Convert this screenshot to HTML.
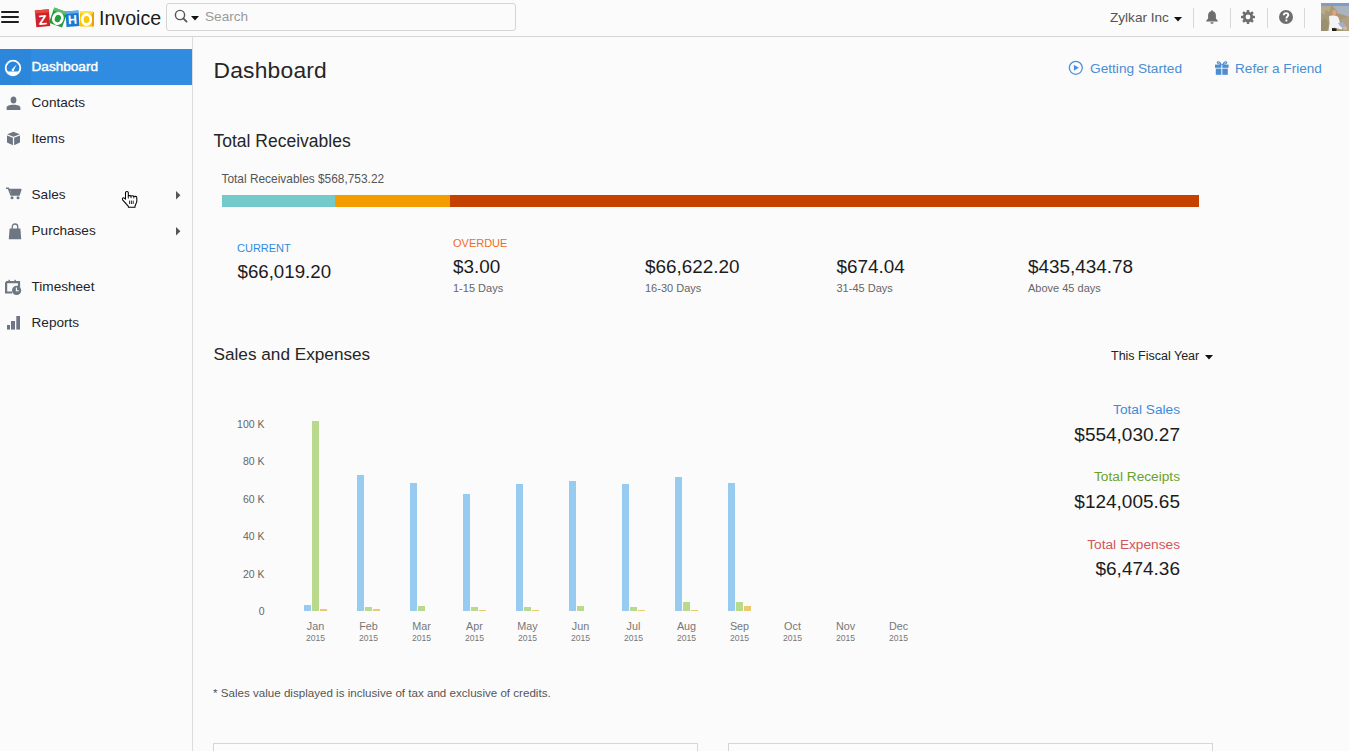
<!DOCTYPE html>
<html><head><meta charset="utf-8"><style>
html,body{margin:0;padding:0;}
body{width:1349px;height:751px;overflow:hidden;position:relative;background:#fbfbfb;font-family:"Liberation Sans",sans-serif;}
.t{position:absolute;line-height:1;white-space:nowrap;}
</style></head><body>
<div style="position:absolute;left:0;top:36px;width:1349px;height:1px;background:#d6d6d6"></div>
<div style="position:absolute;left:1px;top:11px;width:18px;height:2px;background:#1e1e1e;border-radius:1px"></div>
<div style="position:absolute;left:1px;top:16px;width:18px;height:2px;background:#1e1e1e;border-radius:1px"></div>
<div style="position:absolute;left:1px;top:21px;width:18px;height:2px;background:#1e1e1e;border-radius:1px"></div>
<svg style="position:absolute;left:34px;top:6px" width="62" height="22" viewBox="0 0 62 22">
<g transform="translate(0 0.8) rotate(-5 8 11)"><rect x="1.5" y="3" width="14" height="17" fill="#d0222c"/><rect x="1.5" y="3" width="14" height="3" fill="#e8483a"/><text x="8.5" y="18" font-family="Liberation Sans" font-weight="700" font-size="13.5" fill="#fff" text-anchor="middle">Z</text></g>
<g transform="rotate(20 24 12)"><rect x="17" y="3.5" width="14" height="16" fill="#239c3a"/><rect x="17" y="3.5" width="14" height="3" fill="#5cbd68"/><ellipse cx="24" cy="12.5" rx="4.4" ry="5.2" fill="none" stroke="#fff" stroke-width="2.8"/></g>
<g transform="rotate(-4 38 13)"><rect x="32" y="5" width="13" height="15.5" fill="#1b78d2"/><rect x="32" y="5" width="13" height="2.5" fill="#62aee8"/><text x="38.5" y="18" font-family="Liberation Sans" font-weight="700" font-size="12.5" fill="#fff" text-anchor="middle">H</text></g>
<rect x="46" y="5.5" width="13" height="15" fill="#fcc602"/><rect x="58" y="6" width="2" height="14.5" fill="#f39c00"/><rect x="46" y="5.5" width="13" height="2" fill="#ffe04a"/><ellipse cx="52.5" cy="13.5" rx="4.3" ry="5" fill="none" stroke="#fff" stroke-width="2.8"/>
</svg>
<div class="t" style="top:9.01px;font-size:19.6px;color:#1c1c1c;left:99px;">Invoice</div>
<div style="position:absolute;left:166px;top:3px;width:348px;height:26px;border:1px solid #d4d4d4;border-radius:3px;background:#fbfbfb"></div>
<svg style="position:absolute;left:174px;top:9px" width="14" height="14" viewBox="0 0 14 14"><circle cx="6" cy="6" r="4.6" fill="none" stroke="#555" stroke-width="1.4"/><line x1="9.3" y1="9.3" x2="12.6" y2="12.6" stroke="#555" stroke-width="1.8" stroke-linecap="round"/></svg>
<svg style="position:absolute;left:191px;top:16px" width="8" height="5" viewBox="0 0 8 5"><path d="M0 0H8L4 4.5Z" fill="#111"/></svg>
<div class="t" style="top:9.79px;font-size:13.6px;color:#9a9a9a;left:205px;">Search</div>
<div class="t" style="top:10.89px;font-size:13.6px;color:#555;left:1110px;">Zylkar Inc</div>
<svg style="position:absolute;left:1174px;top:17px" width="8" height="5" viewBox="0 0 8 5"><path d="M0 0H8L4 4.5Z" fill="#111"/></svg>
<div style="position:absolute;left:1193px;top:8px;width:1px;height:20px;background:#d8d8d8"></div>
<div style="position:absolute;left:1230px;top:8px;width:1px;height:20px;background:#d8d8d8"></div>
<div style="position:absolute;left:1267px;top:8px;width:1px;height:20px;background:#d8d8d8"></div>
<div style="position:absolute;left:1304px;top:8px;width:1px;height:20px;background:#d8d8d8"></div>
<svg style="position:absolute;left:1206px;top:10px" width="12" height="14" viewBox="0 0 12 14"><path d="M6 0.3C6.6 0.3 6.9 0.8 6.9 1.3C9 1.8 9.9 3.5 9.9 5.6V8.6L11.8 10.8V11.4H0.2V10.8L2.1 8.6V5.6C2.1 3.5 3 1.8 5.1 1.3C5.1 0.8 5.4 0.3 6 0.3Z" fill="#6e6e6e"/><path d="M4.3 12.2H7.7C7.5 13.2 6.8 13.8 6 13.8C5.2 13.8 4.5 13.2 4.3 12.2Z" fill="#6e6e6e"/></svg>
<svg style="position:absolute;left:1240px;top:9px" width="16" height="16" viewBox="-8 -8 16 16"><rect x="-1.3" y="-7" width="2.6" height="3.4" rx="0.4" fill="#6e6e6e" transform="rotate(0)"/><rect x="-1.3" y="-7" width="2.6" height="3.4" rx="0.4" fill="#6e6e6e" transform="rotate(45)"/><rect x="-1.3" y="-7" width="2.6" height="3.4" rx="0.4" fill="#6e6e6e" transform="rotate(90)"/><rect x="-1.3" y="-7" width="2.6" height="3.4" rx="0.4" fill="#6e6e6e" transform="rotate(135)"/><rect x="-1.3" y="-7" width="2.6" height="3.4" rx="0.4" fill="#6e6e6e" transform="rotate(180)"/><rect x="-1.3" y="-7" width="2.6" height="3.4" rx="0.4" fill="#6e6e6e" transform="rotate(225)"/><rect x="-1.3" y="-7" width="2.6" height="3.4" rx="0.4" fill="#6e6e6e" transform="rotate(270)"/><rect x="-1.3" y="-7" width="2.6" height="3.4" rx="0.4" fill="#6e6e6e" transform="rotate(315)"/><circle r="5.2" fill="#6e6e6e"/><circle r="2.4" fill="#fbfbfb"/></svg>
<svg style="position:absolute;left:1279px;top:10px" width="14" height="14" viewBox="0 0 14 14"><circle cx="7" cy="7" r="7" fill="#6e6e6e"/><path d="M4.8 5.3C4.8 3.9 5.8 3.1 7.1 3.1C8.4 3.1 9.3 3.9 9.3 5C9.3 6.5 7.4 6.6 7.4 8.4" fill="none" stroke="#fff" stroke-width="1.9"/><rect x="6.45" y="9.6" width="1.9" height="1.8" fill="#fff"/></svg>
<svg style="position:absolute;left:1321px;top:3px" width="28" height="28" viewBox="0 0 28 28"><rect width="28" height="28" fill="#a89a78"/><rect width="28" height="3" fill="#7f9cc4"/><path d="M12 3H28V14C24 12 20 11 16 10Z" fill="#a9b4c0"/><path d="M0 3H10L8 9L5 7L3 12L0 10Z" fill="#b6a98e"/><path d="M0 18L4 15L8 20L6 28H0Z" fill="#9a9070"/><path d="M20 16L28 14V28H22Z" fill="#b3a084"/><path d="M10 7C10 5.6 11.8 5.2 13.4 5.4C15.2 5.6 16.2 7.4 16.2 10L16.4 15H9.8Z" fill="#b89468"/><ellipse cx="13.3" cy="9.6" rx="2" ry="2.8" fill="#d8a58a"/><path d="M8 13.5C9 12.6 11 12.4 13 12.6C15 12.8 17.4 13.2 17.8 15.5L19.5 22L22 24L20.5 26.5L13 24.5L11 28H7.5L8.5 20Z" fill="#f3f2f4"/><path d="M17 20L22 19L25 23.5L22.5 26L19 23Z" fill="#9fb0c8"/><path d="M11 25L15.5 25.5L15.5 28H11Z" fill="#1e1e1e"/><path d="M21.5 24.5L25 23.5L26.5 26L23 27Z" fill="#d9b9a0"/></svg>
<div style="position:absolute;left:192px;top:37px;width:1px;height:714px;background:#dcdcdc"></div>
<div style="position:absolute;left:0;top:49px;width:192px;height:36px;background:#2f8ce0"></div><div style="position:absolute;left:0;top:49px;width:31px;height:36px;background:#2c86da"></div>
<svg style="position:absolute;left:4px;top:59px" width="18" height="18" viewBox="0 0 18 18"><circle cx="9" cy="9" r="7.3" fill="none" stroke="#fff" stroke-width="1.8"/><path d="M3.2 12.6A6.6 6.6 0 0 0 14.8 12.6Z" fill="#fff"/><path d="M12.6 5.4L8 10.2L9.6 11.6Z" fill="#fff"/><circle cx="8.9" cy="11" r="1.3" fill="#fff"/></svg>
<div class="t" style="top:59.69px;font-size:13.6px;color:#fff;left:31.5px;-webkit-text-stroke:0.45px #fff;">Dashboard</div>
<div class="t" style="top:95.69px;font-size:13.6px;color:#1f2329;left:31.5px;">Contacts</div>
<div class="t" style="top:132.09px;font-size:13.6px;color:#1f2329;left:31.5px;">Items</div>
<div class="t" style="top:187.79px;font-size:13.6px;color:#1f2329;left:31.5px;">Sales</div>
<div class="t" style="top:223.79px;font-size:13.6px;color:#1f2329;left:31.5px;">Purchases</div>
<div class="t" style="top:279.99px;font-size:13.6px;color:#1f2329;left:31.5px;">Timesheet</div>
<div class="t" style="top:315.79px;font-size:13.6px;color:#1f2329;left:31.5px;">Reports</div>
<svg style="position:absolute;left:6px;top:96px" width="15" height="14" viewBox="0 0 15 14"><ellipse cx="7.5" cy="4" rx="2.9" ry="3.6" fill="#6f7683"/><path d="M0.6 14V11.8C0.6 10 3.2 8.8 7.5 8.8C11.8 8.8 14.4 10 14.4 11.8V14Z" fill="#6f7683"/></svg>
<svg style="position:absolute;left:6px;top:131px" width="15" height="15" viewBox="0 0 15 15"><path d="M7.5 0.8L13.8 3.3L7.5 5.8L1.2 3.3Z" fill="#6f7683"/><path d="M1 4.4L6.9 6.8V14.2L1 11.6Z" fill="#6f7683"/><path d="M14 4.4L8.1 6.8V14.2L14 11.6Z" fill="#6f7683"/></svg>
<svg style="position:absolute;left:5px;top:187px" width="17" height="13" viewBox="0 0 17 13"><path d="M1 1.2H3.4L6 8H14L15.8 2.6H4.6" fill="none" stroke="#6f7683" stroke-width="1.6" stroke-linejoin="round"/><path d="M5 2.6H15.8L14 8H6.6Z" fill="#6f7683"/><circle cx="7" cy="10.8" r="1.5" fill="#6f7683"/><circle cx="13" cy="10.8" r="1.5" fill="#6f7683"/></svg>
<svg style="position:absolute;left:8px;top:223px" width="14" height="17" viewBox="0 0 14 17"><path d="M4.3 6V3.6C4.3 2 5.4 1 7 1C8.6 1 9.7 2 9.7 3.6V6" fill="none" stroke="#6f7683" stroke-width="1.3"/><path d="M1.6 5.4H12.4L13.2 16.2H0.8Z" fill="#6f7683"/></svg>
<svg style="position:absolute;left:5px;top:279px" width="17" height="17" viewBox="0 0 17 17"><path d="M1 3.2H14V8" fill="none" stroke="#6f7683" stroke-width="2.2"/><path d="M1.1 3.2V13.5H7" fill="none" stroke="#6f7683" stroke-width="2.2"/><rect x="3.5" y="0.8" width="1.4" height="2.2" fill="#6f7683"/><rect x="9.5" y="0.8" width="1.4" height="2.2" fill="#6f7683"/><circle cx="11.6" cy="11.4" r="4.6" fill="#6f7683"/><path d="M11.4 8.6V11.8H13.8" fill="none" stroke="#fafafa" stroke-width="1.1"/></svg>
<svg style="position:absolute;left:7px;top:316px" width="14" height="14" viewBox="0 0 14 14"><rect x="0" y="9" width="3" height="4.6" fill="#6f7683"/><rect x="4" y="5" width="4" height="8.6" fill="#6f7683"/><rect x="9.3" y="0" width="3.7" height="13.6" fill="#6f7683"/></svg>
<svg style="position:absolute;left:176px;top:191px" width="5" height="9" viewBox="0 0 5 9"><path d="M0 0L4.4 4.2L0 8.4Z" fill="#555"/></svg>
<svg style="position:absolute;left:176px;top:227px" width="5" height="9" viewBox="0 0 5 9"><path d="M0 0L4.4 4.2L0 8.4Z" fill="#555"/></svg>
<svg style="position:absolute;left:118px;top:186px" width="24" height="24" viewBox="0 0 24 24"><path d="M7.5 13.2V6.6C7.5 5.1 10.3 5.1 10.3 6.6V10.2C10.5 9.4 12.7 9.4 13 10.3C13.3 9.6 15.4 9.6 15.8 10.6C16.2 10.1 18.8 10.2 18.8 11.4V15.6L17 20.2V21.2H10.4V20.4L4.6 13.8C3.8 12.6 5.2 11.2 6.4 12.2Z" fill="#fff" stroke="#000" stroke-width="1.05" stroke-linejoin="round"/><path d="M10.3 10.2V12.6M13 10.3V12.2M15.8 10.6V12.4M11.6 14.6V18M13.4 14.6V18M15.2 14.6V18" stroke="#000" stroke-width="0.85"/></svg>
<div class="t" style="top:58.50px;font-size:22.8px;color:#262626;left:213.5px;letter-spacing:0.22px;">Dashboard</div>
<svg style="position:absolute;left:1068px;top:60px" width="16" height="16" viewBox="0 0 16 16"><circle cx="7.8" cy="7.8" r="6.5" fill="none" stroke="#4a90d6" stroke-width="1.3"/><path d="M5.9 4.8L10.8 7.8L5.9 10.8Z" fill="#4a90d6"/></svg>
<div class="t" style="top:61.80px;font-size:13.7px;color:#4a8dd2;left:1090px;">Getting Started</div>
<svg style="position:absolute;left:1215px;top:60px" width="14" height="16" viewBox="0 0 14 16"><path d="M6.2 4.4C5 2.2 3.4 1.2 2.6 2C1.8 2.8 2.8 4.2 6.2 4.4ZM7.8 4.4C9 2.2 10.6 1.2 11.4 2C12.2 2.8 11.2 4.2 7.8 4.4Z" fill="none" stroke="#4a8dd2" stroke-width="1.1"/><rect x="0" y="4.6" width="6.3" height="3.2" fill="#4a8dd2"/><rect x="7.3" y="4.6" width="6.3" height="3.2" fill="#4a8dd2"/><rect x="0.8" y="8.6" width="5.5" height="6.2" fill="#4a8dd2"/><rect x="7.3" y="8.6" width="5.5" height="6.2" fill="#4a8dd2"/></svg>
<div class="t" style="top:61.89px;font-size:13.6px;color:#4a8dd2;left:1235px;">Refer a Friend</div>
<div class="t" style="top:132.99px;font-size:17.5px;color:#262626;left:213.5px;">Total Receivables</div>
<div class="t" style="top:173.63px;font-size:11.9px;color:#555;left:221.5px;">Total Receivables $568,753.22</div>
<div style="position:absolute;left:222px;top:195px;width:113px;height:12px;background:#74cacb"></div>
<div style="position:absolute;left:335px;top:195px;width:115px;height:12px;background:#f39c00"></div>
<div style="position:absolute;left:450px;top:195px;width:749px;height:12px;background:#c44100"></div>
<div class="t" style="top:242.59px;font-size:11px;color:#2f8ce0;left:237px;">CURRENT</div>
<div class="t" style="top:262.67px;font-size:18.7px;color:#1c1c1c;left:237.5px;">$66,019.20</div>
<div class="t" style="top:237.99px;font-size:11px;color:#f26b1d;left:453px;">OVERDUE</div>
<div class="t" style="top:257.80px;font-size:18.9px;color:#1c1c1c;left:453px;">$3.00</div>
<div class="t" style="top:282.69px;font-size:11px;color:#666;left:453px;">1-15 Days</div>
<div class="t" style="top:257.80px;font-size:18.9px;color:#1c1c1c;left:645px;">$66,622.20</div>
<div class="t" style="top:282.69px;font-size:11px;color:#666;left:645px;">16-30 Days</div>
<div class="t" style="top:257.80px;font-size:18.9px;color:#1c1c1c;left:836.5px;">$674.04</div>
<div class="t" style="top:282.69px;font-size:11px;color:#666;left:836.5px;">31-45 Days</div>
<div class="t" style="top:257.80px;font-size:18.9px;color:#1c1c1c;left:1028px;">$435,434.78</div>
<div class="t" style="top:282.69px;font-size:11px;color:#666;left:1028px;">Above 45 days</div>
<div class="t" style="top:346.04px;font-size:17.2px;color:#262626;left:213.5px;">Sales and Expenses</div>
<div class="t" style="top:349.72px;font-size:12.5px;color:#222;left:1111px;">This Fiscal Year</div>
<svg style="position:absolute;left:1205px;top:355px" width="8" height="5" viewBox="0 0 8 5"><path d="M0 0H8L4 4.5Z" fill="#111"/></svg>
<div class="t" style="top:418.91px;font-size:10.5px;color:#666;right:1084.5px;text-align:right;">100 K</div>
<div class="t" style="top:456.31px;font-size:10.5px;color:#666;right:1084.5px;text-align:right;">80 K</div>
<div class="t" style="top:493.71px;font-size:10.5px;color:#666;right:1084.5px;text-align:right;">60 K</div>
<div class="t" style="top:531.11px;font-size:10.5px;color:#666;right:1084.5px;text-align:right;">40 K</div>
<div class="t" style="top:568.51px;font-size:10.5px;color:#666;right:1084.5px;text-align:right;">20 K</div>
<div class="t" style="top:605.91px;font-size:10.5px;color:#666;right:1084.5px;text-align:right;">0</div>
<div style="position:absolute;left:304px;top:605.2px;width:7px;height:5.8px;background:#97cbf0"></div>
<div style="position:absolute;left:312px;top:421.0px;width:7px;height:190.0px;background:#b9da8c"></div>
<div style="position:absolute;left:320px;top:609.2px;width:7px;height:1.8px;background:#ebc96e"></div>
<div class="t" style="top:620.66px;font-size:10.8px;color:#777;left:165.5px;width:300px;text-align:center;">Jan</div>
<div class="t" style="top:634.02px;font-size:8.6px;color:#777;left:165.5px;width:300px;text-align:center;">2015</div>
<div style="position:absolute;left:357px;top:474.5px;width:7px;height:136.5px;background:#97cbf0"></div>
<div style="position:absolute;left:365px;top:606.9px;width:7px;height:4.1px;background:#b9da8c"></div>
<div style="position:absolute;left:373px;top:608.8px;width:7px;height:2.2px;background:#ebc96e"></div>
<div class="t" style="top:620.66px;font-size:10.8px;color:#777;left:218.5px;width:300px;text-align:center;">Feb</div>
<div class="t" style="top:634.02px;font-size:8.6px;color:#777;left:218.5px;width:300px;text-align:center;">2015</div>
<div style="position:absolute;left:410px;top:482.5px;width:7px;height:128.5px;background:#97cbf0"></div>
<div style="position:absolute;left:418px;top:606.2px;width:7px;height:4.8px;background:#b9da8c"></div>
<div class="t" style="top:620.66px;font-size:10.8px;color:#777;left:271.5px;width:300px;text-align:center;">Mar</div>
<div class="t" style="top:634.02px;font-size:8.6px;color:#777;left:271.5px;width:300px;text-align:center;">2015</div>
<div style="position:absolute;left:463px;top:493.8px;width:7px;height:117.2px;background:#97cbf0"></div>
<div style="position:absolute;left:471px;top:607.0px;width:7px;height:4.0px;background:#b9da8c"></div>
<div style="position:absolute;left:479px;top:610.3px;width:7px;height:0.7px;background:#ebc96e"></div>
<div class="t" style="top:620.66px;font-size:10.8px;color:#777;left:324.5px;width:300px;text-align:center;">Apr</div>
<div class="t" style="top:634.02px;font-size:8.6px;color:#777;left:324.5px;width:300px;text-align:center;">2015</div>
<div style="position:absolute;left:516px;top:483.9px;width:7px;height:127.1px;background:#97cbf0"></div>
<div style="position:absolute;left:524px;top:607.0px;width:7px;height:4.0px;background:#b9da8c"></div>
<div style="position:absolute;left:532px;top:610.3px;width:7px;height:0.7px;background:#ebc96e"></div>
<div class="t" style="top:620.66px;font-size:10.8px;color:#777;left:377.5px;width:300px;text-align:center;">May</div>
<div class="t" style="top:634.02px;font-size:8.6px;color:#777;left:377.5px;width:300px;text-align:center;">2015</div>
<div style="position:absolute;left:569px;top:481.1px;width:7px;height:129.9px;background:#97cbf0"></div>
<div style="position:absolute;left:577px;top:606.3px;width:7px;height:4.7px;background:#b9da8c"></div>
<div class="t" style="top:620.66px;font-size:10.8px;color:#777;left:430.5px;width:300px;text-align:center;">Jun</div>
<div class="t" style="top:634.02px;font-size:8.6px;color:#777;left:430.5px;width:300px;text-align:center;">2015</div>
<div style="position:absolute;left:622px;top:483.9px;width:7px;height:127.1px;background:#97cbf0"></div>
<div style="position:absolute;left:630px;top:607.0px;width:7px;height:4.0px;background:#b9da8c"></div>
<div style="position:absolute;left:638px;top:610.3px;width:7px;height:0.7px;background:#ebc96e"></div>
<div class="t" style="top:620.66px;font-size:10.8px;color:#777;left:483.5px;width:300px;text-align:center;">Jul</div>
<div class="t" style="top:634.02px;font-size:8.6px;color:#777;left:483.5px;width:300px;text-align:center;">2015</div>
<div style="position:absolute;left:675px;top:477.0px;width:7px;height:134.0px;background:#97cbf0"></div>
<div style="position:absolute;left:683px;top:602.0px;width:7px;height:9.0px;background:#b9da8c"></div>
<div style="position:absolute;left:691px;top:609.5px;width:7px;height:1.5px;background:#ebc96e"></div>
<div class="t" style="top:620.66px;font-size:10.8px;color:#777;left:536.5px;width:300px;text-align:center;">Aug</div>
<div class="t" style="top:634.02px;font-size:8.6px;color:#777;left:536.5px;width:300px;text-align:center;">2015</div>
<div style="position:absolute;left:728px;top:482.6px;width:7px;height:128.4px;background:#97cbf0"></div>
<div style="position:absolute;left:736px;top:602.0px;width:7px;height:9.0px;background:#b9da8c"></div>
<div style="position:absolute;left:744px;top:605.5px;width:7px;height:5.5px;background:#ebc96e"></div>
<div class="t" style="top:620.66px;font-size:10.8px;color:#777;left:589.5px;width:300px;text-align:center;">Sep</div>
<div class="t" style="top:634.02px;font-size:8.6px;color:#777;left:589.5px;width:300px;text-align:center;">2015</div>
<div class="t" style="top:620.66px;font-size:10.8px;color:#777;left:642.5px;width:300px;text-align:center;">Oct</div>
<div class="t" style="top:634.02px;font-size:8.6px;color:#777;left:642.5px;width:300px;text-align:center;">2015</div>
<div class="t" style="top:620.66px;font-size:10.8px;color:#777;left:695.5px;width:300px;text-align:center;">Nov</div>
<div class="t" style="top:634.02px;font-size:8.6px;color:#777;left:695.5px;width:300px;text-align:center;">2015</div>
<div class="t" style="top:620.66px;font-size:10.8px;color:#777;left:748.5px;width:300px;text-align:center;">Dec</div>
<div class="t" style="top:634.02px;font-size:8.6px;color:#777;left:748.5px;width:300px;text-align:center;">2015</div>
<div class="t" style="top:403.20px;font-size:13.7px;color:#3a8ddb;right:169px;text-align:right;">Total Sales</div>
<div class="t" style="top:424.92px;font-size:19px;color:#1c1c1c;right:169px;text-align:right;">$554,030.27</div>
<div class="t" style="top:470.40px;font-size:13.7px;color:#6aa329;right:169px;text-align:right;">Total Receipts</div>
<div class="t" style="top:492.02px;font-size:19px;color:#1c1c1c;right:169px;text-align:right;">$124,005.65</div>
<div class="t" style="top:537.50px;font-size:13.7px;color:#d2555a;right:169px;text-align:right;">Total Expenses</div>
<div class="t" style="top:559.42px;font-size:19px;color:#1c1c1c;right:169px;text-align:right;">$6,474.36</div>
<div class="t" style="top:687.18px;font-size:11.6px;color:#555;left:213px;">* Sales value displayed is inclusive of tax and exclusive of credits.</div>
<div style="position:absolute;left:213px;top:743px;width:483px;height:20px;border:1px solid #d6d6d6;background:#fcfcfc"></div>
<div style="position:absolute;left:728px;top:743px;width:483px;height:20px;border:1px solid #d6d6d6;background:#fcfcfc"></div>
</body></html>
